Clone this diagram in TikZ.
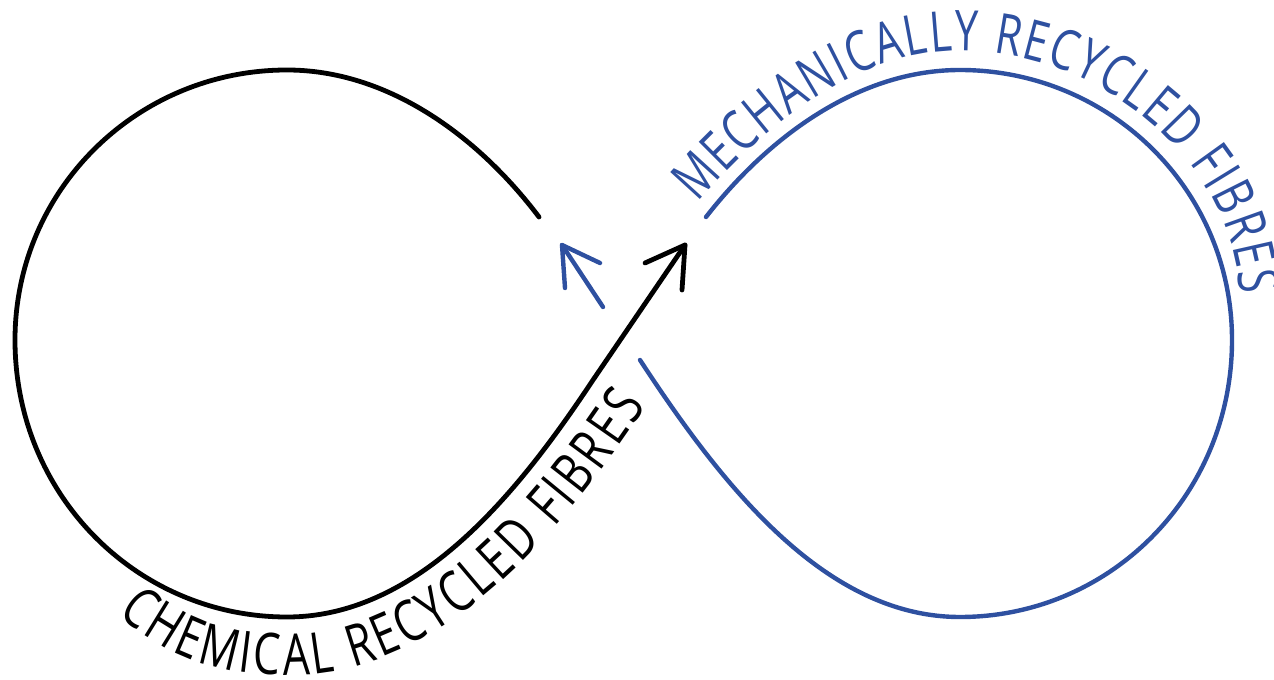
\documentclass[tikz,border=0pt]{standalone}
\usepackage{fontspec}
\newfontfamily\labfont[FakeStretch=0.75]{Open Sans}
\usetikzlibrary{decorations.text}
\definecolor{loopblue}{RGB}{46,80,160}
\begin{document}
\begin{tikzpicture}[x=0.75pt,y=-0.75pt,
  loopline/.style={line width=3.6pt, line cap=round, line join=round},
  blueline/.style={loopline, line width=3.3pt, draw=loopblue}]
\useasboundingbox (0,0) rectangle (1274,680);
% black loop
\coordinate (bA) at (539,217);
\coordinate (bT) at (287,70);
\coordinate (bL) at (15,340);
\coordinate (bB) at (287,617);
\coordinate (bM) at (593,380);
\coordinate (bTip) at (685,245);
\coordinate (bH1) at (645,263);
\coordinate (bH2) at (682,290);
% blue loop
\coordinate (uS) at (640,360);
\coordinate (uB) at (960,617);
\coordinate (uR) at (1232,340);
\coordinate (uT) at (960,70);
\coordinate (uE) at (706,217);
\coordinate (aS) at (603,307);
\coordinate (aTip) at (562,245);
\coordinate (aH1) at (600,263);
\coordinate (aH2) at (565,288);
% text path points
\coordinate (tb1) at (118,614);
\coordinate (tb2) at (290,675);
\coordinate (tb3) at (646,406);
\coordinate (tu1) at (698,203);
\coordinate (tu2) at (960,51);
\coordinate (tu3) at (1240,294);

\draw[loopline] (bA) .. controls (477,135) and (387,70) .. (bT)
  .. controls (137,70) and (15,190) .. (bL)
  .. controls (15,495) and (137,617) .. (bB)
  .. controls (420,617) and (520,490) .. (bM) -- (bTip);
\draw[loopline] (bH1) -- (bTip) -- (bH2);

\draw[blueline] (uS) .. controls (725,490) and (827,617) .. (uB)
  .. controls (1110,617) and (1232,495) .. (uR)
  .. controls (1232,190) and (1110,70) .. (uT)
  .. controls (860,70) and (770,135) .. (uE);
\draw[blueline] (aS) -- (aTip);
\draw[blueline] (aH1) -- (aTip) -- (aH2);

\path[decorate, decoration={text along path, text align=fit to path,
  text={|\labfont\fontsize{43}{43}\selectfont\color{black}|CHEMICAL RECYCLED FIBRES}}]
  (tb1) .. controls (172,663) and (225,675) .. (tb2)
  .. controls (440,675) and (560,537) .. (tb3);
\path[decorate, decoration={text along path, text align=fit to path,
  text={|\labfont\fontsize{42}{42}\selectfont\color{loopblue}|MECHANICALLY RECYCLED FIBRES}}]
  (tu1) .. controls (770,120) and (860,51) .. (tu2)
  .. controls (1105,51) and (1234,165) .. (tu3);
\end{tikzpicture}
\end{document}
